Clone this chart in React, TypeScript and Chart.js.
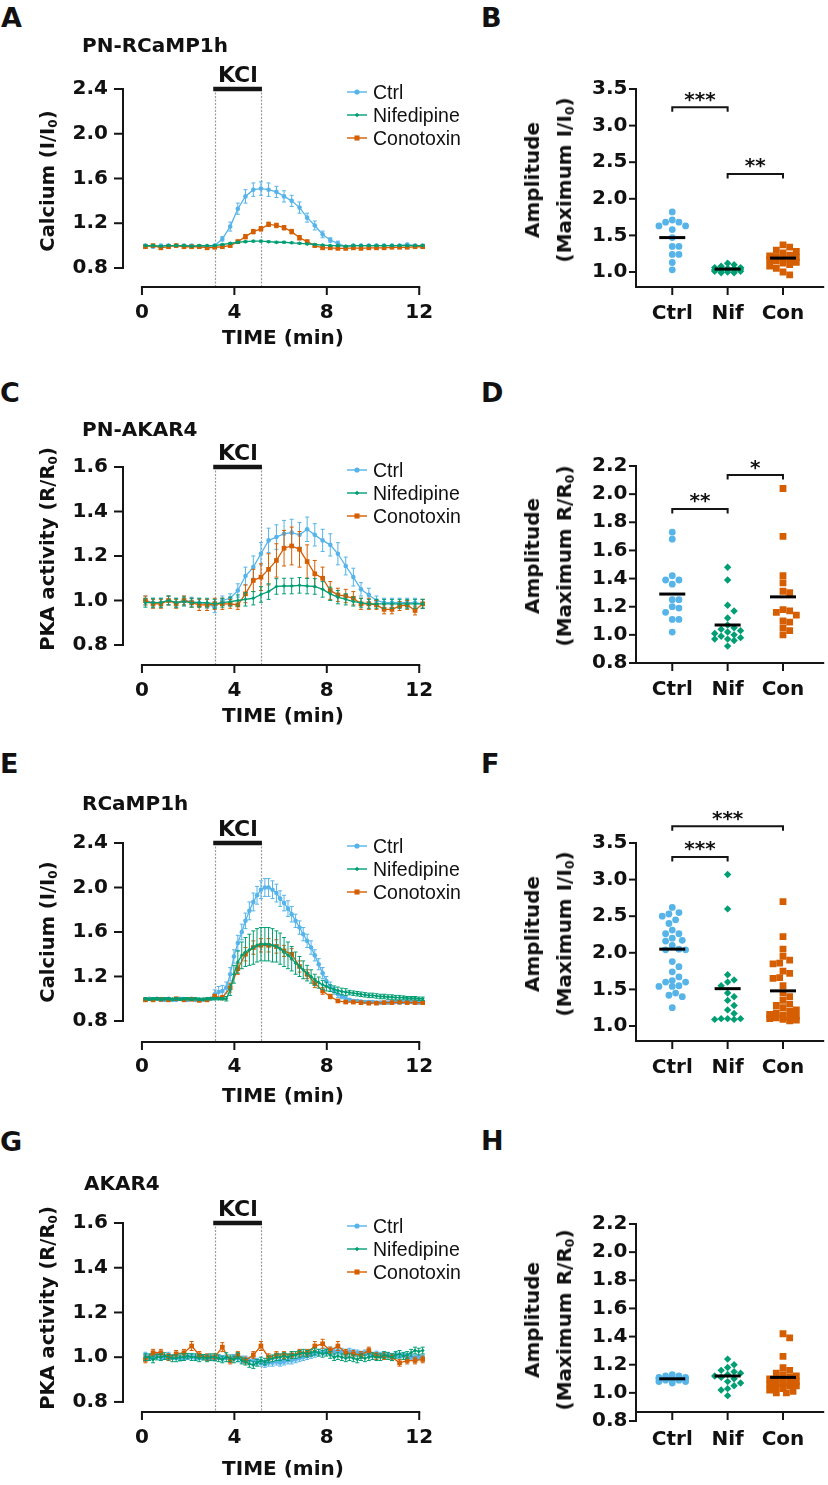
import React, { useEffect, useRef } from "react";
import { Chart, registerables } from "chart.js";

Chart.register(...registerables);

// ======================= DATA =======================
const SERIES_LABELS = ["Ctrl", "Nifedipine", "Conotoxin"];
const GROUP_LABELS = ["Ctrl", "Nif", "Con"];
const TIME_TICKS = [0, 4, 8, 12];
const KCL_WINDOW = [3.15, 5.15];

// sampling times (min): 20-s frames and 10-s frames
const TIME_20S = [0.15, 0.48, 0.82, 1.15, 1.48, 1.82, 2.15, 2.48, 2.82, 3.15, 3.48, 3.82, 4.15, 4.48, 4.82, 5.15, 5.48, 5.82, 6.15, 6.48, 6.82, 7.15, 7.48, 7.82, 8.15, 8.48, 8.82, 9.15, 9.48, 9.82, 10.15, 10.48, 10.82, 11.15, 11.48, 11.82, 12.15];
const TIME_10S = [0.15, 0.32, 0.48, 0.65, 0.82, 0.98, 1.15, 1.32, 1.48, 1.65, 1.82, 1.98, 2.15, 2.32, 2.48, 2.65, 2.82, 2.98, 3.15, 3.32, 3.48, 3.65, 3.82, 3.98, 4.15, 4.32, 4.48, 4.65, 4.82, 4.98, 5.15, 5.32, 5.48, 5.65, 5.82, 5.98, 6.15, 6.32, 6.48, 6.65, 6.82, 6.98, 7.15, 7.32, 7.48, 7.65, 7.82, 7.98, 8.15, 8.32, 8.48, 8.65, 8.82, 8.98, 9.15, 9.32, 9.48, 9.65, 9.82, 9.98, 10.15, 10.32, 10.48, 10.65, 10.82, 10.98, 11.15, 11.32, 11.48, 11.65, 11.82, 11.98, 12.15];

// Panel A  (PN-RCaMP1h, I/I0)
const A_CTRL = [1.00, 0.99, 1.00, 1.00, 1.00, 1.00, 1.00, 0.99, 0.99, 1.00, 1.06, 1.17, 1.33, 1.44, 1.50, 1.51, 1.50, 1.48, 1.44, 1.40, 1.34, 1.25, 1.18, 1.10, 1.05, 1.02, 0.99, 1.00, 1.00, 1.00, 1.00, 1.00, 1.00, 1.00, 1.01, 1.00, 1.00];
const A_CTRL_SEM = [0.01, 0.01, 0.01, 0.01, 0.01, 0.01, 0.01, 0.01, 0.01, 0.01, 0.02, 0.04, 0.05, 0.06, 0.06, 0.06, 0.06, 0.05, 0.05, 0.05, 0.05, 0.04, 0.04, 0.03, 0.02, 0.02, 0.01, 0.01, 0.01, 0.01, 0.01, 0.01, 0.01, 0.01, 0.01, 0.01, 0.01];
const A_NIF = [1.00, 1.00, 0.995, 1.00, 1.00, 1.00, 0.995, 1.00, 1.00, 1.00, 1.01, 1.02, 1.03, 1.035, 1.04, 1.04, 1.035, 1.03, 1.03, 1.025, 1.02, 1.015, 1.01, 1.005, 1.00, 1.00, 0.995, 1.00, 1.00, 1.00, 1.00, 1.00, 1.00, 1.00, 1.00, 1.00, 1.00];
const A_NIF_SEM = [0.006, 0.006, 0.006, 0.006, 0.006, 0.006, 0.006, 0.006, 0.006, 0.006, 0.006, 0.007, 0.008, 0.008, 0.008, 0.008, 0.008, 0.008, 0.008, 0.007, 0.007, 0.007, 0.006, 0.006, 0.006, 0.006, 0.006, 0.006, 0.006, 0.006, 0.006, 0.006, 0.006, 0.006, 0.006, 0.006, 0.006];
const A_CON = [0.99, 1.00, 0.98, 0.99, 1.00, 0.99, 0.99, 0.99, 0.98, 0.985, 0.99, 1.00, 1.035, 1.08, 1.125, 1.15, 1.19, 1.18, 1.16, 1.125, 1.07, 1.035, 1.00, 0.98, 0.98, 0.975, 0.975, 0.98, 0.975, 0.98, 0.98, 0.98, 0.985, 0.985, 0.985, 0.99, 0.99];
const A_CON_SEM = [0.01, 0.01, 0.01, 0.01, 0.01, 0.01, 0.01, 0.01, 0.01, 0.01, 0.01, 0.01, 0.015, 0.02, 0.02, 0.02, 0.02, 0.02, 0.02, 0.02, 0.02, 0.015, 0.01, 0.01, 0.01, 0.01, 0.01, 0.01, 0.01, 0.01, 0.01, 0.01, 0.01, 0.01, 0.01, 0.01, 0.01];

// Panel C  (PN-AKAR4, R/R0)
const C_CTRL = [1.00, 0.99, 0.99, 1.00, 0.99, 1.00, 0.995, 0.99, 0.985, 0.97, 1.00, 1.01, 1.045, 1.11, 1.15, 1.21, 1.27, 1.285, 1.30, 1.305, 1.295, 1.32, 1.295, 1.27, 1.25, 1.21, 1.155, 1.105, 1.05, 1.025, 1.00, 0.99, 0.99, 0.99, 0.99, 0.99, 0.985];
const C_CTRL_SEM = [0.02, 0.02, 0.02, 0.02, 0.02, 0.02, 0.02, 0.02, 0.02, 0.025, 0.02, 0.02, 0.03, 0.04, 0.05, 0.05, 0.055, 0.055, 0.06, 0.06, 0.055, 0.055, 0.05, 0.05, 0.05, 0.05, 0.04, 0.04, 0.03, 0.03, 0.02, 0.02, 0.02, 0.02, 0.02, 0.02, 0.02];
const C_NIF = [0.99, 0.99, 0.99, 1.00, 0.99, 0.995, 0.99, 0.99, 0.99, 0.985, 0.99, 0.995, 1.00, 1.005, 1.01, 1.027, 1.04, 1.063, 1.065, 1.065, 1.068, 1.065, 1.063, 1.05, 1.03, 1.015, 1.005, 0.995, 0.99, 0.985, 0.985, 0.985, 0.985, 0.985, 0.985, 0.985, 0.985];
const C_NIF_SEM = [0.02, 0.02, 0.02, 0.02, 0.02, 0.02, 0.02, 0.02, 0.02, 0.02, 0.02, 0.02, 0.025, 0.03, 0.03, 0.035, 0.035, 0.035, 0.035, 0.035, 0.035, 0.035, 0.035, 0.035, 0.03, 0.03, 0.025, 0.02, 0.02, 0.02, 0.02, 0.02, 0.02, 0.02, 0.02, 0.02, 0.02];
const C_CON = [1.00, 0.985, 0.985, 1.00, 0.985, 1.00, 0.99, 0.98, 0.98, 0.985, 0.985, 0.985, 0.98, 1.03, 1.09, 1.105, 1.14, 1.18, 1.235, 1.245, 1.23, 1.175, 1.12, 1.10, 1.045, 1.025, 1.02, 1.01, 0.985, 0.985, 0.98, 0.96, 0.96, 0.975, 0.98, 0.955, 0.985];
const C_CON_SEM = [0.02, 0.02, 0.02, 0.02, 0.02, 0.02, 0.02, 0.025, 0.025, 0.025, 0.025, 0.02, 0.02, 0.04, 0.05, 0.06, 0.07, 0.075, 0.08, 0.085, 0.08, 0.075, 0.06, 0.05, 0.04, 0.03, 0.03, 0.03, 0.025, 0.025, 0.02, 0.02, 0.02, 0.02, 0.02, 0.02, 0.02];

// Panel E  (RCaMP1h, I/I0)
const E_CTRL = [0.99, 1.00, 0.99, 1.00, 0.99, 0.99, 1.00, 0.99, 0.99, 1.00, 0.99, 0.99, 1.00, 0.99, 0.99, 0.99, 0.99, 1.00,
  1.04, 1.06, 1.07, 1.10, 1.22, 1.38, 1.50, 1.60, 1.70, 1.79, 1.87, 1.93, 1.98, 2.00, 2.00, 1.98, 1.95, 1.90, 1.86, 1.81, 1.76, 1.70, 1.64, 1.58, 1.52, 1.46, 1.39, 1.31, 1.23, 1.16, 1.11, 1.07, 1.04, 1.02, 1.00,
  0.99, 0.98, 0.98, 0.975, 0.97, 0.97, 0.97, 0.965, 0.965, 0.965, 0.965, 0.97, 0.97, 0.965, 0.97, 0.97, 0.97, 0.97, 0.965, 0.97];
const E_CTRL_SEM = [0.01, 0.01, 0.01, 0.01, 0.01, 0.01, 0.01, 0.01, 0.01, 0.01, 0.01, 0.01, 0.01, 0.01, 0.01, 0.01, 0.01, 0.01,
  0.04, 0.05, 0.05, 0.05, 0.06, 0.06, 0.07, 0.07, 0.07, 0.08, 0.08, 0.08, 0.08, 0.08, 0.08, 0.08, 0.08, 0.07, 0.07, 0.07, 0.07, 0.06, 0.06, 0.06, 0.06, 0.06, 0.05, 0.05, 0.05, 0.04, 0.04, 0.03, 0.03, 0.02, 0.02,
  0.01, 0.01, 0.01, 0.01, 0.01, 0.01, 0.01, 0.01, 0.01, 0.01, 0.01, 0.01, 0.01, 0.01, 0.01, 0.01, 0.01, 0.01, 0.01, 0.01];
const E_NIF = [1.00, 0.995, 1.00, 1.00, 0.995, 1.00, 1.00, 0.995, 1.00, 0.995, 1.00, 1.00, 0.995, 1.00, 0.995, 0.995, 1.00, 1.00, 1.00, 1.00, 1.00,
  1.00, 1.08, 1.22, 1.33, 1.39, 1.42, 1.44, 1.46, 1.48, 1.49, 1.49, 1.49, 1.48, 1.47, 1.45, 1.42, 1.39, 1.36, 1.32, 1.29, 1.26, 1.23, 1.20, 1.17, 1.145, 1.125, 1.11, 1.095, 1.085, 1.075, 1.065, 1.06, 1.055, 1.05, 1.045, 1.04, 1.035, 1.03, 1.03, 1.025, 1.02, 1.02, 1.015, 1.015, 1.01, 1.01, 1.01, 1.005, 1.005, 1.005, 1.00, 1.00];
const E_NIF_SEM = [0.01, 0.01, 0.01, 0.01, 0.01, 0.01, 0.01, 0.01, 0.01, 0.01, 0.01, 0.01, 0.01, 0.01, 0.01, 0.01, 0.01, 0.01, 0.01, 0.01, 0.01,
  0.02, 0.05, 0.08, 0.10, 0.12, 0.13, 0.14, 0.15, 0.15, 0.15, 0.15, 0.15, 0.15, 0.14, 0.14, 0.13, 0.12, 0.11, 0.10, 0.09, 0.08, 0.07, 0.06, 0.05, 0.05, 0.04, 0.04, 0.03, 0.03, 0.03, 0.03, 0.03, 0.02, 0.02, 0.02, 0.02, 0.02, 0.02, 0.02, 0.02, 0.02, 0.02, 0.02, 0.02, 0.02, 0.02, 0.015, 0.015, 0.015, 0.015, 0.015, 0.015];
const E_CON = [0.99, 0.99, 0.995, 0.99, 1.00, 0.99, 0.995, 0.985, 0.99, 1.02, 1.01, 1.10, 1.27, 1.40, 1.46, 1.48, 1.48, 1.47, 1.43, 1.40, 1.29, 1.22, 1.14, 1.07, 1.02, 0.98, 0.97, 0.97, 0.965, 0.96, 0.96, 0.965, 0.965, 0.97, 0.965, 0.965, 0.965];
const E_CON_SEM = [0.01, 0.01, 0.01, 0.01, 0.01, 0.01, 0.01, 0.01, 0.01, 0.02, 0.02, 0.04, 0.05, 0.06, 0.06, 0.06, 0.06, 0.06, 0.05, 0.05, 0.05, 0.04, 0.04, 0.03, 0.02, 0.01, 0.01, 0.01, 0.01, 0.01, 0.01, 0.01, 0.01, 0.01, 0.01, 0.01, 0.01];

// Panel G  (AKAR4, R/R0)
const G_CTRL = [1.01, 1.00, 1.00, 1.01, 1.00, 1.00, 1.01, 1.00, 1.00, 0.995, 1.00, 1.00, 1.005, 1.00, 1.00, 1.00, 1.00, 1.00, 0.995, 1.00, 0.995, 1.00, 0.99, 1.00, 0.995, 0.99, 0.99, 0.985, 0.985, 0.98, 0.975, 0.97, 0.975, 0.975, 0.98, 0.975, 0.98, 0.985, 0.985, 0.99, 0.995, 1.00, 1.005, 1.01, 1.015, 1.02, 1.025, 1.025, 1.03, 1.025, 1.03, 1.025, 1.02, 1.025, 1.02, 1.02, 1.015, 1.02, 1.015, 1.01, 1.015, 1.01, 1.01, 1.01, 1.005, 1.01, 1.005, 1.01, 1.005, 1.00, 1.00, 1.00, 1.00];
const G_CTRL_SEM = [0.012, 0.01, 0.01, 0.012, 0.01, 0.01, 0.012, 0.01, 0.01, 0.012, 0.01, 0.01, 0.012, 0.01, 0.01, 0.012, 0.01, 0.01, 0.012, 0.01, 0.012, 0.01, 0.012, 0.012, 0.015, 0.015, 0.015, 0.015, 0.015, 0.015, 0.015, 0.015, 0.015, 0.015, 0.015, 0.015, 0.015, 0.015, 0.015, 0.015, 0.015, 0.015, 0.015, 0.015, 0.015, 0.015, 0.015, 0.015, 0.015, 0.015, 0.015, 0.015, 0.015, 0.015, 0.015, 0.012, 0.012, 0.012, 0.012, 0.012, 0.012, 0.012, 0.012, 0.012, 0.012, 0.012, 0.012, 0.012, 0.012, 0.012, 0.01, 0.01, 0.01];
const G_NIF = [1.00, 1.00, 0.99, 1.00, 1.00, 1.005, 1.00, 0.995, 0.995, 1.00, 1.00, 1.005, 1.00, 1.00, 0.995, 1.00, 0.995, 1.00, 1.00, 0.995, 0.99, 1.00, 0.995, 0.99, 1.00, 0.985, 0.98, 0.97, 0.965, 0.975, 0.985, 0.98, 0.99, 0.995, 1.00, 1.00, 1.005, 1.00, 1.01, 1.01, 1.015, 1.02, 1.015, 1.02, 1.025, 1.02, 1.015, 1.02, 1.01, 1.00, 1.005, 1.00, 0.995, 1.00, 0.995, 0.99, 1.00, 0.995, 1.00, 1.005, 1.00, 1.00, 1.01, 1.005, 1.00, 1.01, 1.015, 1.005, 1.01, 1.02, 1.03, 1.025, 1.03];
const G_NIF_SEM = [0.015, 0.015, 0.015, 0.012, 0.015, 0.015, 0.012, 0.015, 0.015, 0.015, 0.015, 0.012, 0.015, 0.015, 0.015, 0.012, 0.015, 0.015, 0.015, 0.015, 0.015, 0.02, 0.015, 0.015, 0.02, 0.015, 0.015, 0.015, 0.015, 0.015, 0.015, 0.015, 0.015, 0.015, 0.015, 0.015, 0.015, 0.015, 0.015, 0.015, 0.015, 0.015, 0.015, 0.015, 0.015, 0.015, 0.015, 0.015, 0.015, 0.015, 0.015, 0.015, 0.015, 0.015, 0.015, 0.015, 0.015, 0.015, 0.015, 0.015, 0.015, 0.015, 0.015, 0.015, 0.015, 0.015, 0.015, 0.015, 0.015, 0.015, 0.015, 0.015, 0.015];
const G_CON = [0.99, 1.02, 1.02, 1.00, 1.015, 1.02, 1.05, 1.01, 1.00, 1.00, 1.045, 0.985, 1.01, 0.985, 1.01, 1.05, 1.00, 1.01, 1.01, 1.01, 1.02, 1.02, 1.05, 1.06, 1.03, 1.05, 1.02, 1.015, 1.01, 1.03, 1.005, 1.005, 1.00, 0.975, 0.985, 0.985, 0.99];
const G_CON_SEM = [0.015, 0.015, 0.015, 0.015, 0.015, 0.015, 0.02, 0.015, 0.015, 0.015, 0.02, 0.015, 0.015, 0.015, 0.015, 0.02, 0.015, 0.015, 0.015, 0.015, 0.015, 0.015, 0.02, 0.02, 0.015, 0.02, 0.015, 0.015, 0.015, 0.015, 0.015, 0.015, 0.015, 0.015, 0.015, 0.015, 0.015];

// Scatter panels (amplitudes per cell) and group means
const B_CTRL = [1.82, 1.71, 1.68, 1.68, 1.63, 1.63, 1.58, 1.47, 1.35, 1.35, 1.24, 1.24, 1.13, 1.03];
const B_NIF = [1.12, 1.10, 1.08, 1.06, 1.06, 1.05, 1.05, 1.04, 1.04, 1.03, 1.03, 1.02, 1.02, 1.01, 1.01, 1.00, 0.99, 0.99];
const B_CON = [1.37, 1.34, 1.30, 1.28, 1.26, 1.23, 1.22, 1.21, 1.20, 1.19, 1.18, 1.17, 1.15, 1.13, 1.12, 1.10, 1.08, 1.05, 1.00, 0.96];
const B_MEANS = [1.47, 1.04, 1.19];
const D_CTRL = [1.73, 1.68, 1.42, 1.39, 1.39, 1.36, 1.25, 1.25, 1.20, 1.19, 1.16, 1.11, 1.11, 1.02];
const D_NIF = [1.48, 1.39, 1.21, 1.17, 1.12, 1.07, 1.05, 1.04, 1.03, 1.02, 1.01, 1.00, 0.99, 0.98, 0.97, 0.97, 0.96, 0.92];
const D_CON = [2.04, 1.70, 1.42, 1.37, 1.31, 1.30, 1.18, 1.17, 1.16, 1.14, 1.10, 1.09, 1.05, 1.03, 1.00];
const D_MEANS = [1.29, 1.07, 1.27];
const F_CTRL = [2.62, 2.55, 2.53, 2.50, 2.45, 2.40, 2.31, 2.26, 2.26, 2.20, 2.17, 2.16, 2.10, 2.05, 2.04, 2.04, 1.88, 1.81, 1.74, 1.67, 1.62, 1.60, 1.60, 1.55, 1.54, 1.54, 1.45, 1.42, 1.40, 1.25];
const F_NIF = [3.07, 2.60, 1.70, 1.63, 1.60, 1.55, 1.45, 1.40, 1.35, 1.28, 1.22, 1.17, 1.10, 1.10, 1.10, 1.09, 1.09];
const F_CON = [2.70, 2.22, 2.05, 1.95, 1.90, 1.86, 1.85, 1.75, 1.72, 1.66, 1.65, 1.55, 1.45, 1.40, 1.35, 1.30, 1.28, 1.25, 1.22, 1.20, 1.18, 1.16, 1.15, 1.13, 1.12, 1.11, 1.10, 1.09, 1.08, 1.07];
const F_MEANS = [2.05, 1.51, 1.48];
const H_CTRL = [1.13, 1.12, 1.12, 1.11, 1.11, 1.11, 1.10, 1.10, 1.10, 1.10, 1.09, 1.09, 1.09, 1.08, 1.08, 1.07];
const H_NIF = [1.24, 1.20, 1.18, 1.16, 1.15, 1.14, 1.13, 1.12, 1.11, 1.10, 1.08, 1.07, 1.05, 1.03, 1.02, 0.98];
const H_CON = [1.42, 1.39, 1.26, 1.18, 1.16, 1.14, 1.13, 1.12, 1.11, 1.10, 1.10, 1.09, 1.08, 1.07, 1.07, 1.06, 1.06, 1.05, 1.05, 1.04, 1.03, 1.02, 1.01, 1.00, 1.00];
const H_MEANS = [1.10, 1.12, 1.11];

// significance brackets: [fromGroup, toGroup, yValue, label]
const B_SIG: [number, number, number, string][] = [[0, 1, 3.25, "***"], [1, 2, 2.34, "**"]];
const D_SIG: [number, number, number, string][] = [[0, 1, 1.895, "**"], [1, 2, 2.136, "*"]];
const F_SIG: [number, number, number, string][] = [[0, 2, 3.73, "***"], [0, 1, 3.31, "***"]];
const H_SIG: [number, number, number, string][] = [];

// ======================= STYLE =======================
const CTRL_COLOR = "#56B4E9";
const NIF_COLOR = "#009E73";
const CON_COLOR = "#D55E00";
const AXIS_COLOR = "#151515";
const TEXT_COLOR = "#111111";
const BOLD_FONT = "'DejaVu Sans', 'Liberation Sans', sans-serif";
const REG_FONT = "'Liberation Sans', Arial, sans-serif";

type MarkerKind = "circle" | "rect" | "rectRot";
const SERIES_STYLE: { color: string; point: MarkerKind; r: number; legendR: number; order: number }[] = [
  { color: CTRL_COLOR, point: "circle", r: 2.3, legendR: 2.6, order: 3 },
  { color: NIF_COLOR, point: "rectRot", r: 2.0, legendR: 2.2, order: 1 },
  { color: CON_COLOR, point: "rect", r: 3.3, legendR: 3.6, order: 2 },
];
const GROUP_STYLE: { color: string; point: MarkerKind; r: number; d: number }[] = [
  { color: CTRL_COLOR, point: "circle", r: 3.4, d: 6.8 },
  { color: NIF_COLOR, point: "rectRot", r: 3.7, d: 6.6 },
  { color: CON_COLOR, point: "rect", r: 4.8, d: 6.8 },
];

// ======================= LAYOUT =======================
const TS = { canvasLeft: 0, canvasWidth: 470, chartLeft: 123, chartRight: 431, xMin: -0.82, xMax: 12.51 };
const SC = { canvasLeft: 560, canvasWidth: 268, chartLeft: 636, chartRight: 827, xMin: -0.655, xMax: 2.726 };

type TimePanel = {
  key: string; canvasTop: number; canvasHeight: number; chartTop: number; chartBottom: number;
  yMin: number; yMax: number; yTicks: number[]; xPad: number;
  series: { time: number[]; mean: number[]; sem: number[] }[];
};
const TIME_PANELS: TimePanel[] = [
  { key: "A", canvasTop: 40, canvasHeight: 310, chartTop: 89, chartBottom: 287, yMin: 0.63, yMax: 2.4, yTicks: [0.8, 1.2, 1.6, 2.0, 2.4], xPad: 14,
    series: [{ time: TIME_20S, mean: A_CTRL, sem: A_CTRL_SEM }, { time: TIME_20S, mean: A_NIF, sem: A_NIF_SEM }, { time: TIME_20S, mean: A_CON, sem: A_CON_SEM }] },
  { key: "C", canvasTop: 410, canvasHeight: 310, chartTop: 467, chartBottom: 665, yMin: 0.71, yMax: 1.6, yTicks: [0.8, 1.0, 1.2, 1.4, 1.6], xPad: 14,
    series: [{ time: TIME_20S, mean: C_CTRL, sem: C_CTRL_SEM }, { time: TIME_20S, mean: C_NIF, sem: C_NIF_SEM }, { time: TIME_20S, mean: C_CON, sem: C_CON_SEM }] },
  { key: "E", canvasTop: 790, canvasHeight: 310, chartTop: 843, chartBottom: 1042, yMin: 0.611, yMax: 2.4, yTicks: [0.8, 1.2, 1.6, 2.0, 2.4], xPad: 13,
    series: [{ time: TIME_10S, mean: E_CTRL, sem: E_CTRL_SEM }, { time: TIME_10S, mean: E_NIF, sem: E_NIF_SEM }, { time: TIME_20S, mean: E_CON, sem: E_CON_SEM }] },
  { key: "G", canvasTop: 1180, canvasHeight: 300, chartTop: 1223, chartBottom: 1412, yMin: 0.755, yMax: 1.6, yTicks: [0.8, 1.0, 1.2, 1.4, 1.6], xPad: 14,
    series: [{ time: TIME_10S, mean: G_CTRL, sem: G_CTRL_SEM }, { time: TIME_10S, mean: G_NIF, sem: G_NIF_SEM }, { time: TIME_20S, mean: G_CON, sem: G_CON_SEM }] },
];

type ScatterPanel = {
  key: string; canvasTop: number; canvasHeight: number; chartTop: number; chartBottom: number;
  yMin: number; yMax: number; yTicks: number[]; xAxisAt: number | null; xPad: number;
  groups: number[][]; means: number[]; sig: [number, number, number, string][];
};
const SCATTER_PANELS: ScatterPanel[] = [
  { key: "B", canvasTop: 40, canvasHeight: 310, chartTop: 89, chartBottom: 287, yMin: 0.795, yMax: 3.5, yTicks: [1.0, 1.5, 2.0, 2.5, 3.0, 3.5], xAxisAt: null, xPad: 15,
    groups: [B_CTRL, B_NIF, B_CON], means: B_MEANS, sig: B_SIG },
  { key: "D", canvasTop: 410, canvasHeight: 310, chartTop: 466, chartBottom: 663, yMin: 0.8, yMax: 2.2, yTicks: [0.8, 1.0, 1.2, 1.4, 1.6, 1.8, 2.0, 2.2], xAxisAt: null, xPad: 15,
    groups: [D_CTRL, D_NIF, D_CON], means: D_MEANS, sig: D_SIG },
  { key: "F", canvasTop: 790, canvasHeight: 310, chartTop: 843, chartBottom: 1041, yMin: 0.795, yMax: 3.5, yTicks: [1.0, 1.5, 2.0, 2.5, 3.0, 3.5], xAxisAt: null, xPad: 15,
    groups: [F_CTRL, F_NIF, F_CON], means: F_MEANS, sig: F_SIG },
  { key: "H", canvasTop: 1180, canvasHeight: 300, chartTop: 1224, chartBottom: 1421, yMin: 0.8, yMax: 2.2, yTicks: [0.8, 1.0, 1.2, 1.4, 1.6, 1.8, 2.0, 2.2], xAxisAt: 0.864, xPad: 7,
    groups: [H_CTRL, H_NIF, H_CON], means: H_MEANS, sig: H_SIG },
];

// ======================= HELPERS =======================
function seg(ctx: CanvasRenderingContext2D, x1: number, y1: number, x2: number, y2: number) {
  ctx.beginPath();
  ctx.moveTo(x1, y1);
  ctx.lineTo(x2, y2);
  ctx.stroke();
}

function marker(ctx: CanvasRenderingContext2D, kind: MarkerKind, x: number, y: number, r: number) {
  ctx.beginPath();
  if (kind === "circle") ctx.arc(x, y, r, 0, Math.PI * 2);
  else if (kind === "rect") {
    const s = r * Math.SQRT1_2;
    ctx.rect(x - s, y - s, 2 * s, 2 * s);
  } else {
    ctx.moveTo(x - r, y);
    ctx.lineTo(x, y - r);
    ctx.lineTo(x + r, y);
    ctx.lineTo(x, y + r);
    ctx.closePath();
  }
  ctx.fill();
}

// simple beeswarm: pixel offsets so that markers overlap as little as possible
function swarmOffsets(values: number[], pxPerY: number, d: number): number[] {
  const order = values.map((_, i) => i).sort((a, b) => values[b] - values[a]);
  const cands: number[] = [0];
  for (let k = 1; k <= 4; k++) cands.push(k * d * 0.5, -k * d * 0.5);
  const placed: { dx: number; py: number }[] = [];
  const out = new Array(values.length).fill(0);
  for (const i of order) {
    const py = values[i] * pxPerY;
    let best = 0;
    let bestScore = Infinity;
    for (const dx of cands) {
      let score = 0;
      for (const p of placed) {
        const d2 = (dx - p.dx) ** 2 + (py - p.py) ** 2;
        if (d2 < d * d) score += d * d - d2;
      }
      if (score < bestScore - 1e-9) {
        bestScore = score;
        best = dx;
      }
      if (score === 0) break;
    }
    placed.push({ dx: best, py });
    out[i] = best;
  }
  return out;
}

const tickFont = { family: BOLD_FONT, size: 20, weight: "bold" as const };

// ======================= CHART CONFIGS =======================
function timeConfig(p: TimePanel): any {
  const datasets = p.series.map((s, i) => {
    const st = SERIES_STYLE[i];
    return {
      label: SERIES_LABELS[i],
      data: s.time.map((t, k) => ({ x: t, y: s.mean[k] })),
      sem: s.sem,
      borderColor: st.color,
      backgroundColor: st.color,
      borderWidth: 1.3,
      pointStyle: st.point,
      pointRadius: st.r,
      pointBackgroundColor: st.color,
      pointBorderWidth: 0,
      tension: 0,
      fill: false,
      order: st.order,
    };
  });

  const decor = {
    id: "timeDecor",
    beforeDatasetsDraw(chart: any) {
      const { ctx, chartArea: ca } = chart;
      const xs = chart.scales.x;
      const ys = chart.scales.y;
      ctx.save();
      // KCl window guides
      ctx.strokeStyle = "#9c9c9c";
      ctx.lineWidth = 1.2;
      ctx.setLineDash([2, 1.5]);
      for (const t of KCL_WINDOW) {
        const px = Math.round(xs.getPixelForValue(t)) + 0.5;
        seg(ctx, px, ca.top, px, ca.bottom);
      }
      ctx.setLineDash([]);
      // axes
      ctx.strokeStyle = AXIS_COLOR;
      ctx.lineWidth = 2;
      ctx.lineCap = "square";
      const yTop = ys.getPixelForValue(p.yTicks[p.yTicks.length - 1]);
      const yBot = ys.getPixelForValue(p.yTicks[0]);
      seg(ctx, ca.left, yTop, ca.left, yBot);
      const x0 = xs.getPixelForValue(TIME_TICKS[0]);
      const x1 = xs.getPixelForValue(TIME_TICKS[TIME_TICKS.length - 1]);
      seg(ctx, x0, ca.bottom, x1, ca.bottom);
      ctx.lineCap = "butt";
      for (const v of p.yTicks) {
        const py = ys.getPixelForValue(v);
        seg(ctx, ca.left - 9, py, ca.left, py);
      }
      for (const v of TIME_TICKS) {
        const px = xs.getPixelForValue(v);
        seg(ctx, px, ca.bottom, px, ca.bottom + 8);
      }
      // KCl bar + label
      const k0 = xs.getPixelForValue(KCL_WINDOW[0]);
      const k1 = xs.getPixelForValue(KCL_WINDOW[1]);
      ctx.lineWidth = 4.5;
      seg(ctx, k0 - 1.5, ca.top, k1 + 1, ca.top);
      ctx.fillStyle = TEXT_COLOR;
      ctx.font = `bold 22px ${BOLD_FONT}`;
      ctx.textAlign = "center";
      ctx.textBaseline = "alphabetic";
      ctx.fillText("KCl", (k0 + k1) / 2, ca.top - 15.5 + 0.3645 * 22);
      ctx.restore();
    },
    beforeDatasetDraw(chart: any, args: any) {
      const ds = chart.data.datasets[args.index];
      if (!ds || !ds.sem) return;
      const { ctx } = chart;
      const xs = chart.scales.x;
      const ys = chart.scales.y;
      ctx.save();
      ctx.strokeStyle = ds.borderColor;
      ctx.lineWidth = 1;
      ds.data.forEach((pt: any, k: number) => {
        const e = ds.sem[k];
        const px = xs.getPixelForValue(pt.x);
        const hi = ys.getPixelForValue(pt.y + e);
        const lo = ys.getPixelForValue(pt.y - e);
        seg(ctx, px, hi, px, lo);
        seg(ctx, px - 2, hi, px + 2, hi);
        seg(ctx, px - 2, lo, px + 2, lo);
      });
      ctx.restore();
    },
    afterDatasetsDraw(chart: any) {
      const { ctx, chartArea: ca } = chart;
      ctx.save();
      const lx = ca.left + 224;
      let ly = ca.top + 3;
      for (let i = 0; i < 3; i++) {
        const st = SERIES_STYLE[i];
        ctx.strokeStyle = st.color;
        ctx.fillStyle = st.color;
        ctx.lineWidth = 1.4;
        seg(ctx, lx, ly, lx + 20, ly);
        marker(ctx, st.point, lx + 10, ly, st.legendR);
        ctx.fillStyle = TEXT_COLOR;
        ctx.font = `19.5px ${REG_FONT}`;
        ctx.textAlign = "left";
        ctx.textBaseline = "alphabetic";
        ctx.fillText(chart.data.datasets[i].label, lx + 26, ly + 7);
        ly += 23;
      }
      ctx.restore();
    },
  };

  return {
    type: "line",
    data: { datasets },
    options: {
      responsive: false,
      animation: false,
      devicePixelRatio: 1,
      events: [],
      layout: { padding: { top: p.chartTop - p.canvasTop, right: TS.canvasLeft + TS.canvasWidth - TS.chartRight, left: 0, bottom: 0 } },
      plugins: { legend: { display: false }, tooltip: { enabled: false } },
      scales: {
        x: {
          type: "linear",
          min: TS.xMin,
          max: TS.xMax,
          grid: { display: false, drawTicks: false },
          border: { display: false },
          afterBuildTicks: (ax: any) => { ax.ticks = TIME_TICKS.map((v) => ({ value: v })); },
          afterFit: (ax: any) => { ax.height = p.canvasTop + p.canvasHeight - p.chartBottom; },
          ticks: { font: tickFont, color: TEXT_COLOR, padding: p.xPad, maxRotation: 0, autoSkip: false, callback: (v: any) => String(v) },
        },
        y: {
          type: "linear",
          min: p.yMin,
          max: p.yMax,
          grid: { display: false, drawTicks: false },
          border: { display: false },
          afterBuildTicks: (ax: any) => { ax.ticks = p.yTicks.map((v) => ({ value: v })); },
          afterFit: (ax: any) => { ax.width = TS.chartLeft - TS.canvasLeft; },
          ticks: { font: tickFont, color: TEXT_COLOR, padding: 15, autoSkip: false, callback: (v: any) => Number(v).toFixed(1) },
        },
      },
    },
    plugins: [decor],
  };
}

function scatterConfig(p: ScatterPanel): any {
  const pxPerY = (p.chartBottom - p.chartTop) / (p.yMax - p.yMin);
  const pxPerX = (SC.chartRight - SC.chartLeft) / (SC.xMax - SC.xMin);
  const datasets = p.groups.map((vals, gi) => {
    const st = GROUP_STYLE[gi];
    const offs = swarmOffsets(vals, pxPerY, st.d);
    return {
      label: GROUP_LABELS[gi],
      data: vals.map((v, k) => ({ x: gi + offs[k] / pxPerX, y: v })),
      groupMean: p.means[gi],
      pointStyle: st.point,
      pointRadius: st.r,
      pointBackgroundColor: st.color,
      pointBorderWidth: 0,
      backgroundColor: st.color,
      borderColor: st.color,
      showLine: false,
    };
  });

  const decor = {
    id: "scatterDecor",
    beforeDatasetsDraw(chart: any) {
      const { ctx, chartArea: ca } = chart;
      const xs = chart.scales.x;
      const ys = chart.scales.y;
      ctx.save();
      ctx.strokeStyle = AXIS_COLOR;
      ctx.lineWidth = 2;
      ctx.lineCap = "square";
      const yTop = ys.getPixelForValue(p.yMax);
      seg(ctx, ca.left, ca.bottom, ca.left, yTop);
      const xAxisY = p.xAxisAt === null ? ca.bottom : ys.getPixelForValue(p.xAxisAt);
      seg(ctx, ca.left, xAxisY, ca.right, xAxisY);
      ctx.lineCap = "butt";
      for (const v of p.yTicks) {
        const py = ys.getPixelForValue(v);
        seg(ctx, ca.left - 7, py, ca.left, py);
      }
      for (let g = 0; g < GROUP_LABELS.length; g++) {
        const px = xs.getPixelForValue(g);
        seg(ctx, px, xAxisY, px, xAxisY + 8);
      }
      ctx.restore();
    },
    afterDatasetsDraw(chart: any) {
      const { ctx } = chart;
      const xs = chart.scales.x;
      const ys = chart.scales.y;
      ctx.save();
      // mean bars
      ctx.strokeStyle = "#000";
      ctx.lineWidth = 3;
      chart.data.datasets.forEach((ds: any, gi: number) => {
        const px = xs.getPixelForValue(gi);
        const py = ys.getPixelForValue(ds.groupMean);
        seg(ctx, px - 13, py, px + 13, py);
      });
      // significance brackets
      ctx.lineWidth = 2;
      ctx.strokeStyle = AXIS_COLOR;
      ctx.fillStyle = TEXT_COLOR;
      ctx.font = `bold 20px ${BOLD_FONT}`;
      ctx.textAlign = "center";
      ctx.textBaseline = "alphabetic";
      for (const [a, b, yv, label] of p.sig) {
        const xa = xs.getPixelForValue(a);
        const xb = xs.getPixelForValue(b);
        const py = ys.getPixelForValue(yv);
        ctx.beginPath();
        ctx.moveTo(xa, py + 4.5);
        ctx.lineTo(xa, py);
        ctx.lineTo(xb, py);
        ctx.lineTo(xb, py + 4.5);
        ctx.stroke();
        ctx.fillText(label, (xa + xb) / 2, py - 13 + 0.575 * 20);
      }
      ctx.restore();
    },
  };

  return {
    type: "scatter",
    data: { datasets },
    options: {
      responsive: false,
      animation: false,
      devicePixelRatio: 1,
      events: [],
      layout: { padding: { top: p.chartTop - p.canvasTop, right: SC.canvasLeft + SC.canvasWidth - SC.chartRight, left: 0, bottom: 0 } },
      plugins: { legend: { display: false }, tooltip: { enabled: false } },
      scales: {
        x: {
          type: "linear",
          min: SC.xMin,
          max: SC.xMax,
          grid: { display: false, drawTicks: false },
          border: { display: false },
          afterBuildTicks: (ax: any) => { ax.ticks = GROUP_LABELS.map((_, i) => ({ value: i })); },
          afterFit: (ax: any) => { ax.height = p.canvasTop + p.canvasHeight - p.chartBottom; },
          ticks: { font: tickFont, color: TEXT_COLOR, padding: p.xPad, maxRotation: 0, autoSkip: false, callback: (v: any) => GROUP_LABELS[Math.round(Number(v))] ?? "" },
        },
        y: {
          type: "linear",
          min: p.yMin,
          max: p.yMax,
          grid: { display: false, drawTicks: false },
          border: { display: false },
          afterBuildTicks: (ax: any) => { ax.ticks = p.yTicks.map((v) => ({ value: v })); },
          afterFit: (ax: any) => { ax.width = SC.chartLeft - SC.canvasLeft; },
          ticks: { font: tickFont, color: TEXT_COLOR, padding: 8.5, autoSkip: false, callback: (v: any) => Number(v).toFixed(1) },
        },
      },
    },
    plugins: [decor],
  };
}

// ======================= COMPONENTS =======================
function ChartBox({ left, top, width, height, make }: { left: number; top: number; width: number; height: number; make: () => any }) {
  const ref = useRef<HTMLCanvasElement>(null);
  useEffect(() => {
    if (!ref.current) return;
    const chart = new Chart(ref.current, make());
    return () => chart.destroy();
  }, []);
  return (
    <canvas
      ref={ref}
      width={width}
      height={height}
      style={{ position: "absolute", left, top, width, height, display: "block" }}
    />
  );
}

function Label({ x, y, size, children, center = false }: { x: number; y: number; size: number; children: React.ReactNode; center?: boolean }) {
  return (
    <div
      style={{
        position: "absolute",
        left: x,
        top: y - 0.48 * size,
        fontFamily: BOLD_FONT,
        fontWeight: 700,
        fontSize: size,
        lineHeight: `${size}px`,
        whiteSpace: "nowrap",
        color: TEXT_COLOR,
        transform: center ? "translateX(-50%)" : undefined,
      }}
    >
      {children}
    </div>
  );
}

function VTitle({ cx, cy, size, lineHeight, children }: { cx: number; cy: number; size: number; lineHeight: number; children: React.ReactNode }) {
  return (
    <div
      style={{
        position: "absolute",
        left: cx,
        top: cy,
        transform: "translate(-50%, -50%) rotate(-90deg)",
        fontFamily: BOLD_FONT,
        fontWeight: 700,
        fontSize: size,
        lineHeight: `${lineHeight}px`,
        whiteSpace: "nowrap",
        textAlign: "center",
        color: TEXT_COLOR,
      }}
    >
      {children}
    </div>
  );
}

const Sub = ({ c }: { c: string }) => (
  <sub style={{ fontSize: "0.62em", lineHeight: 0, verticalAlign: "-0.28em" }}>{c}</sub>
);

export default function App() {
  return (
    <div style={{ position: "absolute", left: 0, top: 0, width: 828, height: 1485, background: "#ffffff", overflow: "hidden" }}>
      {TIME_PANELS.map((p) => (
        <ChartBox key={p.key} left={TS.canvasLeft} top={p.canvasTop} width={TS.canvasWidth} height={p.canvasHeight} make={() => timeConfig(p)} />
      ))}
      {SCATTER_PANELS.map((p) => (
        <ChartBox key={p.key} left={SC.canvasLeft} top={p.canvasTop} width={SC.canvasWidth} height={p.canvasHeight} make={() => scatterConfig(p)} />
      ))}

      {/* panel letters */}
      <Label x={1} y={16.5} size={27}>A</Label>
      <Label x={481} y={16.5} size={27}>B</Label>
      <Label x={0} y={391.5} size={27}>C</Label>
      <Label x={481} y={391.5} size={27}>D</Label>
      <Label x={0} y={762.5} size={27}>E</Label>
      <Label x={481} y={762.5} size={27}>F</Label>
      <Label x={0} y={1141} size={27}>G</Label>
      <Label x={481} y={1140} size={27}>H</Label>

      {/* sensor titles */}
      <Label x={82} y={45} size={20}>PN-RCaMP1h</Label>
      <Label x={82} y={429} size={20}>PN-AKAR4</Label>
      <Label x={82} y={802.5} size={20}>RCaMP1h</Label>
      <Label x={84} y={1182.5} size={20}>AKAR4</Label>

      {/* x-axis titles */}
      <Label x={283} y={337} size={20} center>TIME (min)</Label>
      <Label x={283} y={715} size={20} center>TIME (min)</Label>
      <Label x={283} y={1095} size={20} center>TIME (min)</Label>
      <Label x={283} y={1468} size={20} center>TIME (min)</Label>

      {/* y-axis titles, time courses */}
      <VTitle cx={48} cy={181} size={19.5} lineHeight={22}>Calcium (I/I<Sub c="0" />)</VTitle>
      <VTitle cx={48} cy={549} size={19.5} lineHeight={22}>PKA activity (R/R<Sub c="0" />)</VTitle>
      <VTitle cx={48} cy={932} size={19.5} lineHeight={22}>Calcium (I/I<Sub c="0" />)</VTitle>
      <VTitle cx={48} cy={1308} size={19.5} lineHeight={22}>PKA activity (R/R<Sub c="0" />)</VTitle>

      {/* y-axis titles, amplitudes */}
      <VTitle cx={547.5} cy={180} size={20} lineHeight={32}>Amplitude<br />(Maximum I/I<Sub c="0" />)</VTitle>
      <VTitle cx={547.5} cy={556} size={20} lineHeight={32}>Amplitude<br />(Maximum R/R<Sub c="0" />)</VTitle>
      <VTitle cx={547.5} cy={934} size={20} lineHeight={32}>Amplitude<br />(Maximum I/I<Sub c="0" />)</VTitle>
      <VTitle cx={547.5} cy={1320} size={20} lineHeight={32}>Amplitude<br />(Maximum R/R<Sub c="0" />)</VTitle>
    </div>
  );
}
